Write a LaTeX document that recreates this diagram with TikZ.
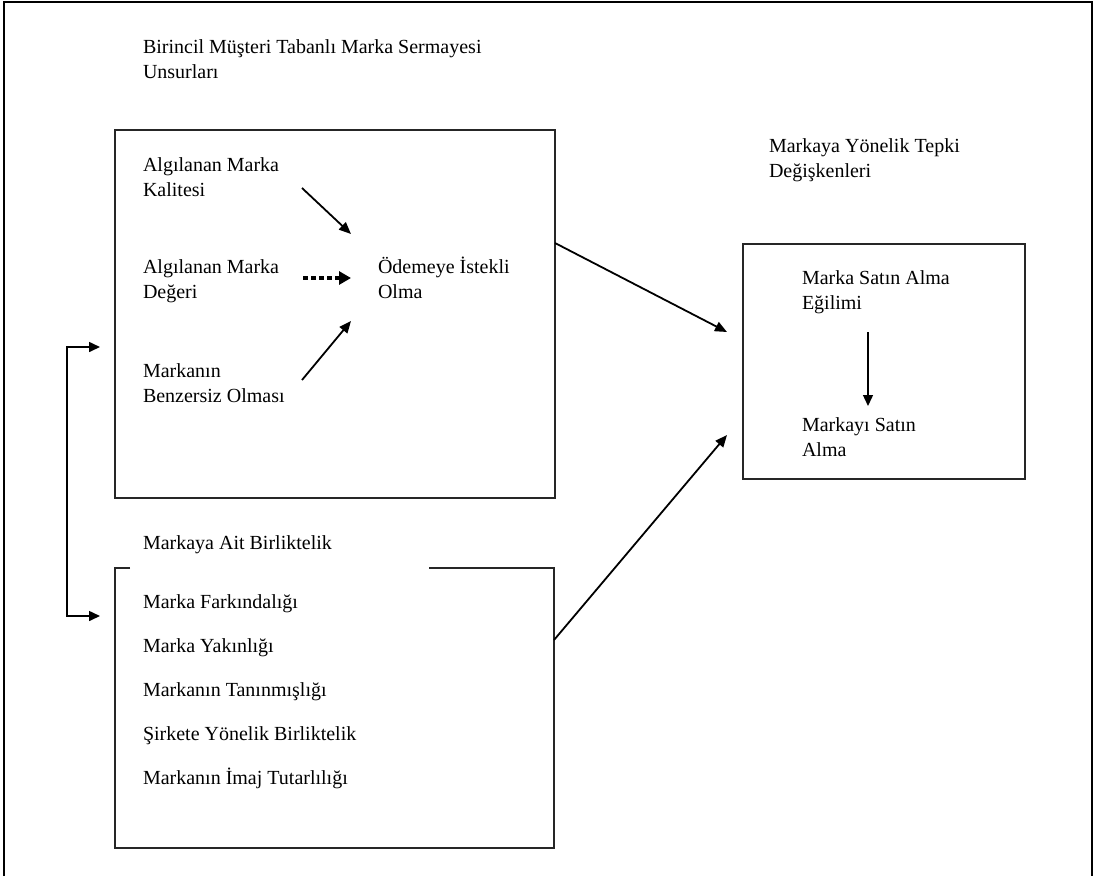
\documentclass[tikz,border=0pt]{standalone}
\usepackage{fontspec}
\setmainfont{Liberation Serif}
\usetikzlibrary{arrows.meta}
\begin{document}
\begin{tikzpicture}[x=1pt,y=-1pt,
  frameline/.style={line width=2.5pt, black},
  panel/.style={draw=black!85, line width=1.1pt, inner sep=0pt, outer sep=0pt},
  lbl/.style={anchor=base west, inner sep=0pt, outer sep=0pt, align=left,
              font=\fontsize{20}{25}\selectfont},
  conn/.style={line width=1.8pt, -{Triangle[length=12pt,width=10pt]}},
  dotconn/.style={line width=4pt, dash pattern=on 5pt off 3pt,
                  -{Triangle[length=12pt,width=13pt]}},
  thinconn/.style={line width=1.4pt, -{Triangle[length=11pt,width=10pt]}},
  link/.style={line width=1.6pt, {Triangle[length=11pt,width=10pt]}-{Triangle[length=11pt,width=10pt]}}
]
\useasboundingbox (0,0) rectangle (1097,876);

% outer frame, open at the bottom
\coordinate (fbl) at (4,876);
\coordinate (ftl) at (4,2);
\coordinate (ftr) at (1092,2);
\coordinate (fbr) at (1092,876);
\draw[frameline] (fbl) -- (ftl) -- (ftr) -- (fbr);

% panels
\node[panel, minimum width=440pt, minimum height=368pt, anchor=north west] (pri) at (115,130) {};
\node[panel, minimum width=282pt, minimum height=235pt, anchor=north west] (resp) at (743,244) {};
\node[inner sep=0pt, outer sep=0pt, minimum width=439pt, minimum height=280pt, anchor=north west] (assoc) at (115,568) {};
\draw[draw=black!85, line width=1.1pt]
  ([xshift=15pt]assoc.north west) -- (assoc.north west) -- (assoc.south west)
  -- (assoc.south east) -- (assoc.north east) -- ([xshift=-125pt]assoc.north east);

% headings
\node[lbl] (title) at (143,78) {Birincil Müşteri Tabanlı Marka Sermayesi\\Unsurları};
\node[lbl] (resptitle) at (769,177) {Markaya Yönelik Tepki\\Değişkenleri};
\node[lbl] (assoctitle) at (143,549) {Markaya Ait Birliktelik};

% primary elements
\node[lbl] (quality) at (143,196) {Algılanan Marka\\Kalitesi};
\node[lbl] (value) at (143,298) {Algılanan Marka\\Değeri};
\node[lbl] (unique) at (143,402) {Markanın\\Benzersiz Olması};
\node[lbl] (pay) at (378,298) {Ödemeye İstekli\\Olma};

% response variables
\node[lbl] (intent) at (802,309) {Marka Satın Alma\\Eğilimi};
\node[lbl] (buy) at (802,456) {Markayı Satın\\Alma};

% brand associations
\node[lbl] (aware) at (143,608) {Marka Farkındalığı};
\node[lbl] (close) at (143,652) {Marka Yakınlığı};
\node[lbl] (known) at (143,696) {Markanın Tanınmışlığı};
\node[lbl] (firm) at (143,740) {Şirkete Yönelik Birliktelik};
\node[lbl] (image) at (143,784) {Markanın İmaj Tutarlılığı};

% arrows inside the primary panel
\coordinate (q0) at (302,188);
\coordinate (q1) at (351,234);
\coordinate (v0) at (303,278);
\coordinate (v1) at (351,278);
\coordinate (u0) at (302,380);
\coordinate (u1) at (351,321);
\draw[conn] (q0) -- (q1);
\draw[dotconn] (v0) -- (v1);
\draw[conn] (u0) -- (u1);

% panels to responses
\coordinate (p0) at (pri.east |- 0,243);
\coordinate (p1) at (727,332);
\coordinate (a0) at (assoc.east |- 0,640);
\coordinate (a1) at (727,435);
\draw[conn] (p0) -- (p1);
\draw[conn] (a0) -- (a1);

% intention to purchase
\coordinate (i0) at (868,332);
\coordinate (i1) at (868,406);
\draw[thinconn] (i0) -- (i1);

% link between the two left panels
\coordinate (l0) at (100,347);
\coordinate (lk1) at (67,347);
\coordinate (lk2) at (67,616);
\coordinate (l1) at (100,616);
\draw[link] (l0) -- (lk1) -- (lk2) -- (l1);
\end{tikzpicture}
\end{document}
